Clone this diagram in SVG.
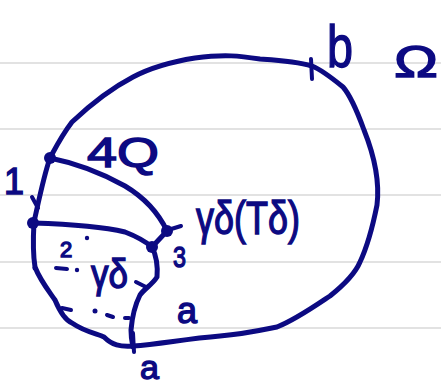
<svg xmlns="http://www.w3.org/2000/svg" width="441" height="388" viewBox="0 0 441 388">
<style>
.rule{stroke:#e2e2e2;stroke-width:2}
.ink{fill:none;stroke:#0c0a82;stroke-width:5;stroke-linecap:round;stroke-linejoin:round}
.thin{fill:none;stroke:#0c0a82;stroke-width:4;stroke-linecap:round}
.dot{fill:#0c0a82}
text{fill:#0c0a82;stroke:#0c0a82;stroke-width:1.4;font-family:"Liberation Sans",Arial,sans-serif}
</style>
<rect width="441" height="388" fill="#ffffff"/>
<g id="paper-lines">
<line class="rule" x1="0" y1="63" x2="441" y2="63"/>
<line class="rule" x1="0" y1="129" x2="441" y2="129"/>
<line class="rule" x1="0" y1="195" x2="441" y2="195"/>
<line class="rule" x1="0" y1="262" x2="441" y2="262"/>
<line class="rule" x1="0" y1="328" x2="441" y2="328"/>
</g>
<g id="domain-omega">
<path class="ink" d="M133,346 C160,344 185,339 220,336 C245,334 262,330 277,327 C295,320 315,306 330,296 C345,284 355,274 360,262 C368,245 373,225 377,205 C380,180 374,155 364,130 C356,108 350,95 343,87 C332,78 322,70 312,66 C295,61 275,60 260,59 C240,56 225,54 195,58 C170,62 150,68 133,77 C110,89 90,105 72,122 C62,135 57,145 50,158 C44,175 40,195 34,222 C33,240 33,255 35,267 C40,280 48,290 55,300 C60,312 65,320 72,323 C85,332 98,334 104,337 C112,345 120,347 133,346 Z"/>
</g>
<g id="connectors">
<path class="ink" d="M50,158 C75,163 100,172 125,186 C145,198 158,212 167,231"/>
<path class="ink" d="M33,223 C65,224 100,226 125,232 C138,237 146,242 152,247"/>
<path class="ink" d="M167,231 L152,247 C156,255 158,265 157,277 C152,285 145,288 140,295 C135,305 132,318 131,330 C131,338 132,342 133,347"/>
<path class="thin" d="M168,230 L181,226"/>
<path class="thin" d="M136,282 L146,287"/>
<path class="thin" d="M311,59 L312,79"/>
<path class="thin" d="M133,333 L134,352"/>
<path class="thin" d="M32,197 L38,208"/>
<path class="thin" d="M62,308 L71,310"/>
<path class="thin" d="M56,268 L67,269"/>
<path class="thin" d="M107,315 L113,317"/>
<path class="thin" d="M125,318 L129,318"/>
</g>
<g id="marks">
<circle class="dot" cx="50" cy="158" r="6"/>
<circle class="dot" cx="33" cy="223" r="6"/>
<circle class="dot" cx="167" cy="231" r="6"/>
<circle class="dot" cx="152" cy="247" r="6"/>
<circle class="dot" cx="87" cy="238" r="2.2"/>
<circle class="dot" cx="77" cy="270" r="2.2"/>
<circle class="dot" cx="95" cy="311" r="2.5"/>
<circle class="dot" cx="35" cy="268" r="2.5"/>
</g>
<g id="labels">
<text x="4" y="194" font-size="36">1</text>
<text x="87" y="167" font-size="42" textLength="72" lengthAdjust="spacingAndGlyphs">4Q</text>
<text x="196" y="234" font-size="46" textLength="104" lengthAdjust="spacingAndGlyphs">γδ(Tδ)</text>
<text x="60" y="257" font-size="22">2</text>
<text x="91" y="288" font-size="40" textLength="37" lengthAdjust="spacingAndGlyphs">γδ</text>
<text x="173" y="267" font-size="30" textLength="13" lengthAdjust="spacingAndGlyphs">3</text>
<text x="177" y="323" font-size="36">a</text>
<text x="140" y="379" font-size="34">a</text>
<text x="327" y="67" font-size="60" textLength="26" lengthAdjust="spacingAndGlyphs">b</text>
<text x="394" y="77" font-size="44" textLength="44" lengthAdjust="spacingAndGlyphs">Ω</text>
</g>
</svg>
